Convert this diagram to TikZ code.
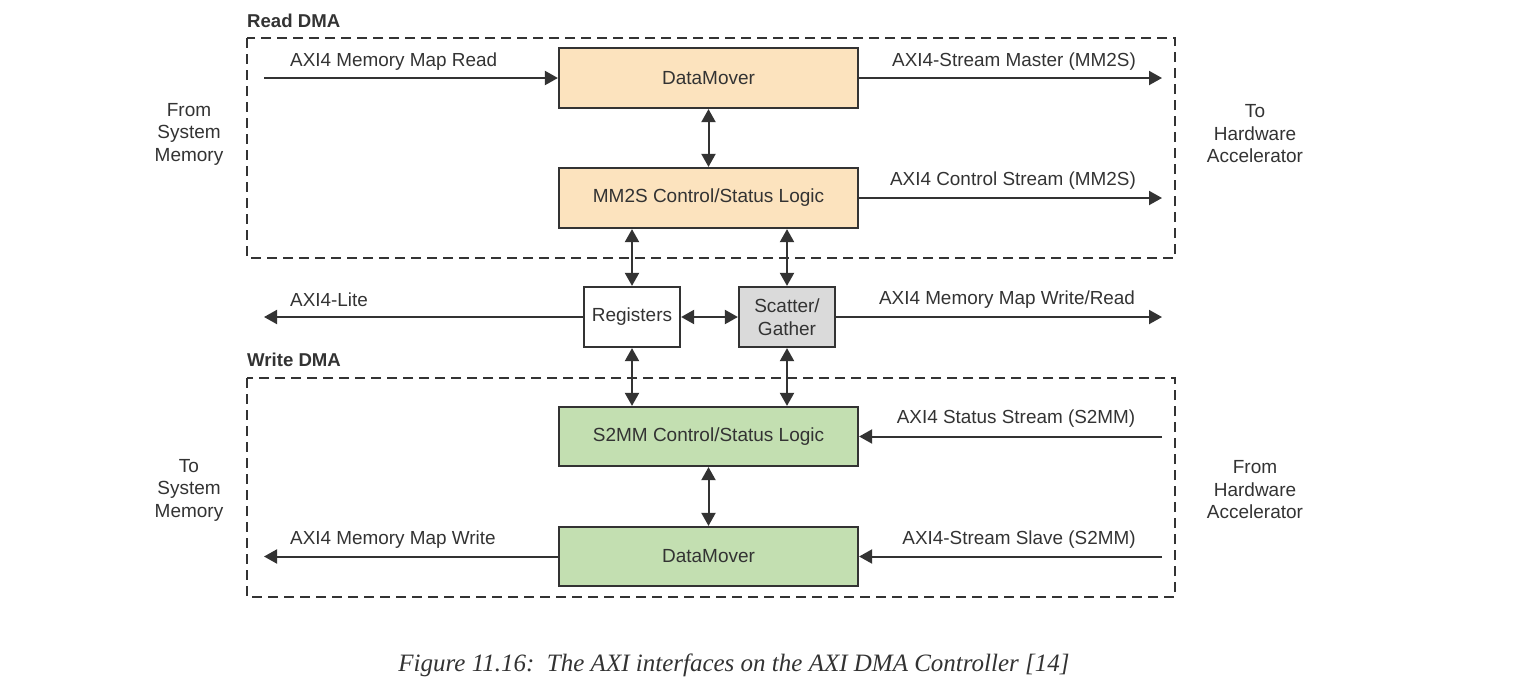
\documentclass[tikz,border=0pt]{standalone}
\usepackage{fontspec}
\setmainfont{Liberation Sans}
\newfontfamily\capfont{Liberation Serif}
\usetikzlibrary{arrows.meta}
\definecolor{ink}{HTML}{333333}
\definecolor{orangefill}{HTML}{FCE3BE}
\definecolor{greenfill}{HTML}{C3DFB1}
\definecolor{grayfill}{HTML}{DADADA}
\tikzset{
  blk/.style={draw=ink, line width=2.2pt, minimum width=299pt, minimum height=60pt, inner sep=0pt, text=ink, font=\fontsize{19}{22.5}\selectfont},
  smallblk/.style={blk, minimum width=96pt, align=center},
  conn/.style={draw=ink, line width=2pt, -{Triangle[length=13pt,width=14pt]}},
  dconn/.style={draw=ink, line width=2pt, {Triangle[length=13pt,width=14pt]}-{Triangle[length=13pt,width=14pt]}},
  lbl/.style={text=ink, font=\fontsize{18.9}{22}\selectfont, inner sep=0pt},
  side/.style={text=ink, font=\fontsize{19}{22.5}\selectfont, align=center, inner sep=0pt},
  grp/.style={draw=ink, line width=1.8pt, dash pattern=on 10pt off 6pt},
  grplbl/.style={text=ink, font=\bfseries\fontsize{18.6}{20}\selectfont, inner sep=0pt, anchor=west}
}
\begin{document}
\begin{tikzpicture}[x=1pt, y=-1pt]
\useasboundingbox (0,0) rectangle (1517,691);
% group frames
\draw[grp] (247,38) rectangle (1175,258);
\draw[grp] (247,378) rectangle (1175,597);
\node[grplbl] (readlbl) at (247,21) {Read DMA};
\node[grplbl] (writelbl) at (247,360) {Write DMA};
% blocks
\node[blk, fill=orangefill] (dm1) at (708.5,78) {DataMover};
\node[blk, fill=orangefill] (mm2s) at (708.5,198) {MM2S Control/Status Logic};
\node[smallblk, fill=white] (reg) at (632,317) {Registers};
\node[smallblk, fill=grayfill] (sg) at (787,317) {Scatter/\\Gather};
\node[blk, fill=greenfill, minimum height=59pt] (s2mm) at (708.5,436.5) {S2MM Control/Status Logic};
\node[blk, fill=greenfill, minimum height=59pt] (dm2) at (708.5,556.5) {DataMover};
% free ends
\coordinate (inrd) at (264,78);
\coordinate (outms) at (1162,78);
\coordinate (outcs) at (1162,198);
\coordinate (outlite) at (264,317);
\coordinate (outmwr) at (1162,317);
\coordinate (inss) at (1162,436.5);
\coordinate (outmw) at (264,556.5);
\coordinate (insl) at (1162,556.5);
% connectors
\draw[conn] (inrd) -- (dm1.west);
\draw[conn] (dm1.east) -- (outms);
\draw[conn] (mm2s.east) -- (outcs);
\draw[dconn] (dm1.south) -- (mm2s.north);
\draw[dconn] (reg.north) -- (reg.north |- mm2s.south);
\draw[dconn] (sg.north) -- (sg.north |- mm2s.south);
\draw[dconn] (reg.south) -- (reg.south |- s2mm.north);
\draw[dconn] (sg.south) -- (sg.south |- s2mm.north);
\draw[dconn] (reg.east) -- (sg.west);
\draw[conn] (reg.west) -- (outlite);
\draw[conn] (sg.east) -- (outmwr);
\draw[conn] (inss) -- (s2mm.east);
\draw[dconn] (s2mm.south) -- (dm2.north);
\draw[conn] (dm2.west) -- (outmw);
\draw[conn] (insl) -- (dm2.east);
% connector labels
\node[lbl, anchor=west] (l1) at (290,62) {AXI4 Memory Map Read};
\node[lbl] (l2) at (1014,62) {AXI4-Stream Master (MM2S)};
\node[lbl] (l3) at (1013,181) {AXI4 Control Stream (MM2S)};
\node[lbl, anchor=west] (l4) at (290,300) {AXI4-Lite};
\node[lbl] (l5) at (1007,300) {AXI4 Memory Map Write/Read};
\node[lbl] (l6) at (1016,419) {AXI4 Status Stream (S2MM)};
\node[lbl, anchor=west] (l7) at (290,540) {AXI4 Memory Map Write};
\node[lbl] (l8) at (1019,540) {AXI4-Stream Slave (S2MM)};
% side texts
\node[side] (s1) at (189,134) {From\\System\\Memory};
\node[side] (s2) at (1255,134) {To\\Hardware\\Accelerator};
\node[side] (s3) at (189,490) {To\\System\\Memory};
\node[side] (s4) at (1255,490) {From\\Hardware\\Accelerator};
% caption
\node[inner sep=0pt, text=ink, font=\capfont\itshape\fontsize{25}{29}\selectfont] (cap) at (734,665) {Figure 11.16:\ \ The AXI interfaces on the AXI DMA Controller [14]};
\end{tikzpicture}
\end{document}
